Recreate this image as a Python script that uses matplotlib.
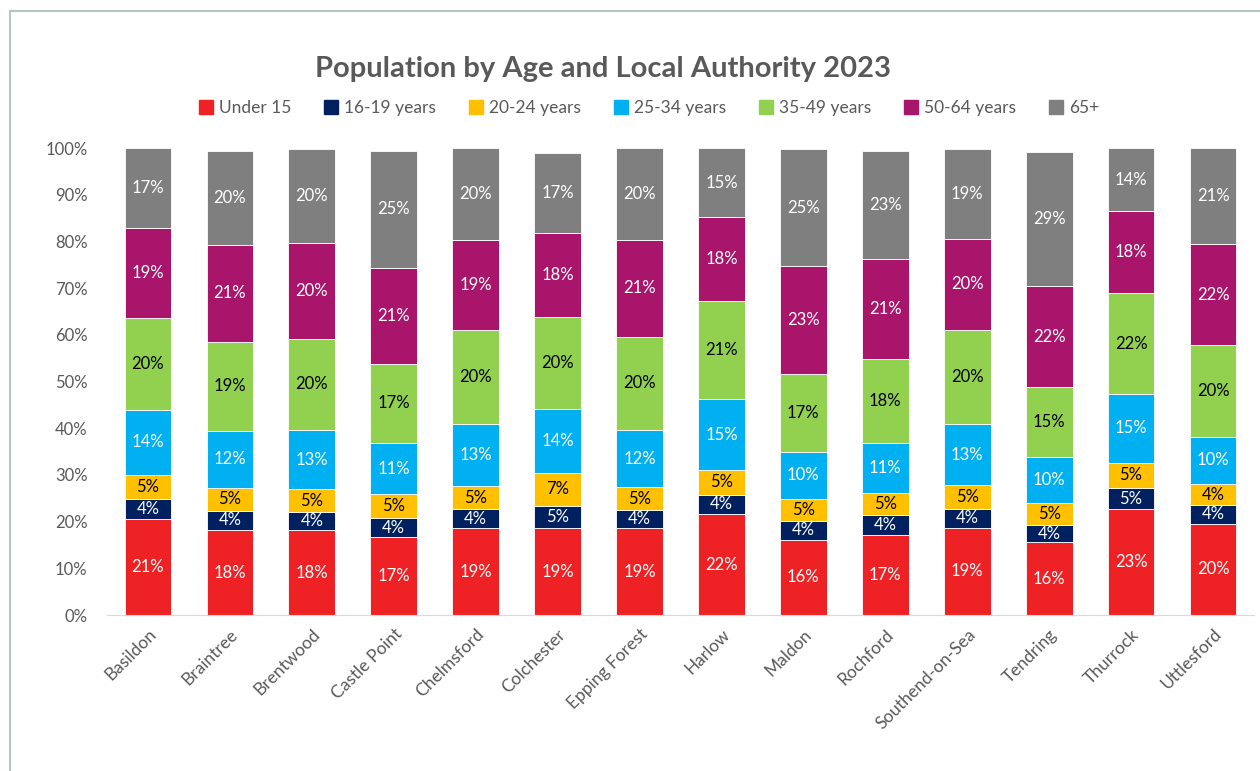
import matplotlib.pyplot as plt
from matplotlib.lines import Line2D
import numpy as np

plt.rcParams['font.family'] = ['Lato', 'DejaVu Sans']

authorities = ['Basildon', 'Braintree', 'Brentwood', 'Castle Point', 'Chelmsford',
               'Colchester', 'Epping Forest', 'Harlow', 'Maldon', 'Rochford',
               'Southend-on-Sea', 'Tendring', 'Thurrock', 'Uttlesford']
age_groups = ['Under 15', '16-19 years', '20-24 years', '25-34 years',
              '35-49 years', '50-64 years', '65+']

# shares in percent, per authority (same order as above)
under_15 = [20.6, 18.2, 18.2, 16.7, 18.6, 18.6, 18.6, 21.6, 16.1, 17.2, 18.7, 15.6, 22.6, 19.5]
y16_19 = [4.2, 4.1, 3.9, 4.0, 4.0, 4.8, 3.8, 4.2, 4.0, 4.2, 4.0, 3.7, 4.6, 4.1]
y20_24 = [5.2, 4.9, 4.8, 5.2, 5.0, 7.1, 5.0, 5.3, 4.8, 4.8, 5.2, 4.7, 5.4, 4.4]
y25_34 = [13.9, 12.2, 12.7, 10.9, 13.2, 13.6, 12.2, 15.1, 10.0, 10.7, 12.9, 9.9, 14.7, 10.2]
y35_49 = [19.8, 19.1, 19.6, 17.0, 20.3, 19.7, 20.0, 21.0, 16.8, 18.0, 20.2, 14.9, 21.6, 19.6]
y50_64 = [19.1, 20.7, 20.4, 20.6, 19.2, 18.1, 20.7, 18.0, 23.0, 21.4, 19.6, 21.6, 17.6, 21.6]
y65_plus = [17.1, 20.1, 20.1, 25.0, 19.6, 17.0, 19.6, 14.7, 25.1, 23.1, 19.1, 28.8, 13.5, 20.6]

series = [under_15, y16_19, y20_24, y25_34, y35_49, y50_64, y65_plus]
colors = ['#EE2224', '#002060', '#FFC000', '#00B0F0', '#92D050', '#A8156A', '#7F7F7F']
label_colors = ['white', 'white', 'black', 'white', 'black', 'white', 'white']

fig = plt.figure(figsize=(12.6, 7.71), dpi=100)
ax = fig.add_axes([107 / 1260, 1 - 615 / 771, (1254 - 107) / 1260, (615 - 148) / 771])

x = np.arange(len(authorities))
bottom = np.zeros(len(authorities))
for vals, col, tcol in zip(series, colors, label_colors):
    v = np.array(vals) / 100
    ax.bar(x, v, width=0.57, bottom=bottom, color=col, edgecolor='white', linewidth=0.6)
    for xi, b, h in zip(x, bottom, v):
        ax.text(xi, b + h / 2, f'{h * 100:.0f}%', ha='center', va='center',
                color=tcol, fontsize=12)
    bottom += v

ax.set_xlim(-0.5, len(authorities) - 0.5)
ax.set_ylim(0, 1.0)
ax.set_yticks(np.arange(0, 1.01, 0.1))
ax.set_yticklabels([f'{int(round(t * 100))}%' for t in np.arange(0, 1.01, 0.1)],
                   fontsize=12, color='#595959')
ax.set_xticks(x)
ax.set_xticklabels(authorities, rotation=45, ha='right', rotation_mode='anchor',
                   fontsize=12.5, color='#595959')
ax.tick_params(axis='both', length=0)
ax.tick_params(axis='y', pad=14)
ax.tick_params(axis='x', pad=8)
for s in ['top', 'right', 'left']:
    ax.spines[s].set_visible(False)
ax.spines['bottom'].set_color('#D9D9D9')

fig.text(603 / 1260, 1 - 69 / 771, 'Population by Age and Local Authority 2023',
         ha='center', va='center', fontsize=21, fontweight='bold', color='#595959')

handles = [Line2D([], [], marker='s', linestyle='none', markersize=10,
                  markerfacecolor=c, markeredgecolor=c) for c in colors]
fig.legend(handles, age_groups, loc='center', bbox_to_anchor=(649 / 1260, 1 - 108 / 771),
           ncol=7, frameon=False, fontsize=12.5, handlelength=0.8, handletextpad=0.35,
           columnspacing=1.9, labelcolor='#595959')

# chart frame edges
fig.add_artist(Line2D([10 / 1260, 10 / 1260], [0, 1 - 11 / 771], color='#B8C4C4',
                      linewidth=1.5, transform=fig.transFigure))
fig.add_artist(Line2D([10 / 1260, 1], [1 - 11 / 771, 1 - 11 / 771], color='#B8C4C4',
                      linewidth=1.5, transform=fig.transFigure))

fig.savefig('out.png', dpi=100)
